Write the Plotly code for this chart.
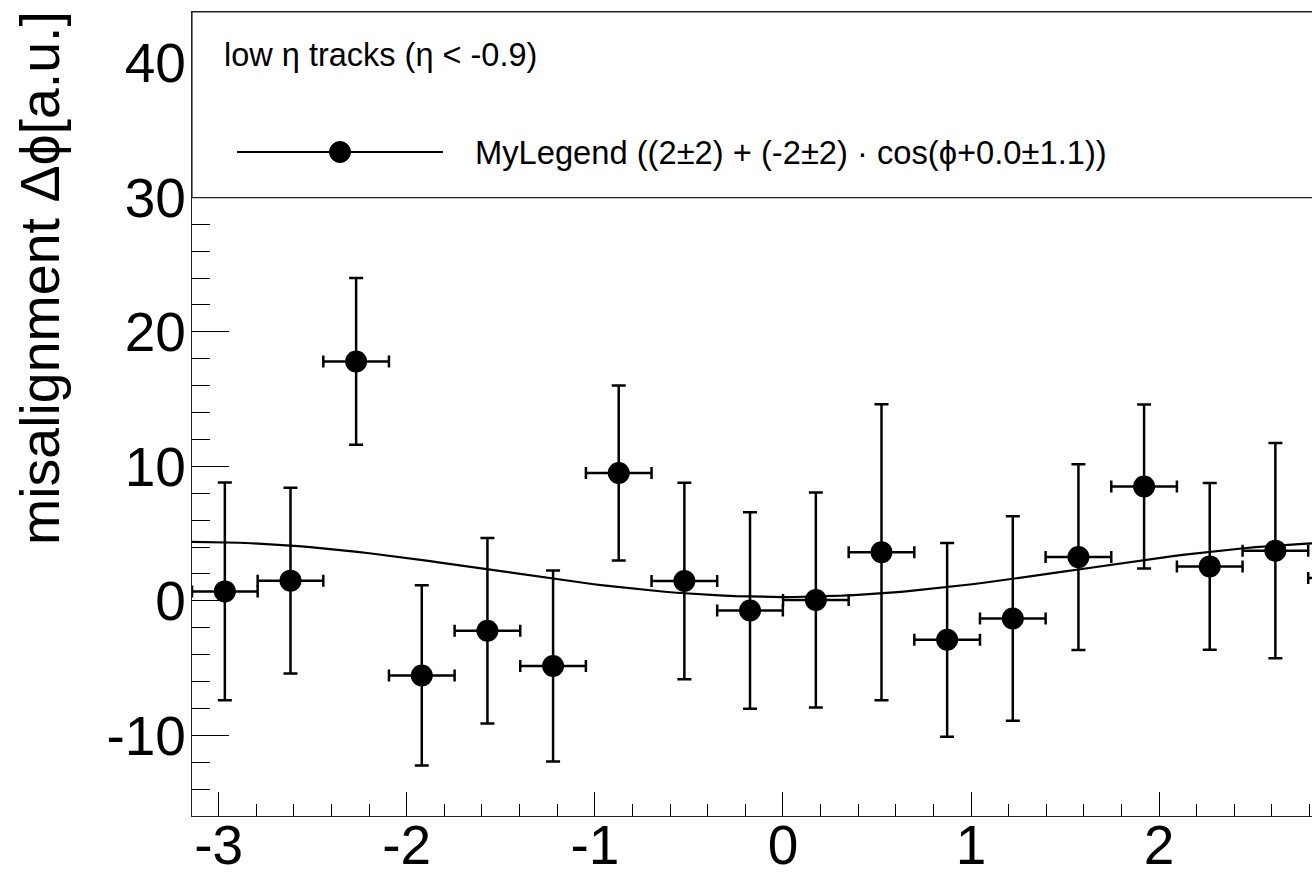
import numpy as np
import plotly.graph_objects as go

# Binned misalignment measurement (18 bins in phi over [-pi, pi])
phi_centers = [-2.967, -2.618, -2.269, -1.920, -1.571, -1.222, -0.873, -0.524, -0.175,
               0.175, 0.524, 0.873, 1.222, 1.571, 1.920, 2.269, 2.618, 2.967]
misalignment = [0.7, 1.5, 17.8, -5.55, -2.23, -4.85, 9.5, 1.47, -0.72,
                0.06, 3.61, -2.9, -1.31, 3.25, 8.5, 2.56, 3.73, 1.7]
misalignment_err = [8.1, 6.9, 6.2, 6.7, 6.9, 7.1, 6.5, 7.3, 7.3,
                    8.0, 11.0, 7.2, 7.6, 6.9, 6.1, 6.2, 8.0, 7.0]
phi_half_width = [0.1745] * 18

# Fit result: p0 + p1 * cos(phi + p2)
fit_par = [2.33, -2.05, 0.0]
fit_err = [2.0, 2.0, 1.1]

x_tick_vals = [-3, -2, -1, 0, 1, 2, 3]
y_tick_vals = [-10, 0, 10, 20, 30, 40]

FONT = "Liberation Sans, Arial, Helvetica, sans-serif"

# Frame geometry in pixels
W, H = 1312, 879
L, T, B = 192, 12, 63
plot_w = W - L
plot_h = H - T - B
px_per_unit_x = 188.1
x_range = [-np.pi, -np.pi + plot_w / px_per_unit_x]
y_range = [-16.0, 43.78]


def px_to_paper_x(px):
    return (px - L) / plot_w


def px_to_paper_y(py):
    return (H - B - py) / plot_h


phi_fine = np.linspace(-np.pi, np.pi, 101)
fit_curve = fit_par[0] + fit_par[1] * np.cos(phi_fine + fit_par[2])

fig = go.Figure()

fig.add_trace(go.Scatter(
    x=phi_fine, y=fit_curve, mode="lines",
    line=dict(color="black", width=2.2),
    hoverinfo="skip", showlegend=False,
))

fig.add_trace(go.Scatter(
    x=phi_centers, y=misalignment, mode="markers",
    marker=dict(color="black", size=22, symbol="circle"),
    error_y=dict(type="data", array=misalignment_err, visible=True,
                 color="black", thickness=2.5, width=7),
    error_x=dict(type="data", array=phi_half_width, visible=True,
                 color="black", thickness=2.5, width=6),
    showlegend=False,
))

legend_text = (
    f"MyLegend (({fit_par[0]:.0f}±{fit_err[0]:.0f}) + ({fit_par[1]:.0f}±{fit_err[1]:.0f})"
    f" · cos(ϕ+{fit_par[2]:.1f}±{fit_err[2]:.1f}))"
)

shapes = [
    # legend box
    dict(type="rect", xref="paper", yref="paper",
         x0=0, x1=1.2, y0=px_to_paper_y(197.7), y1=1.0,
         fillcolor="white", line=dict(color="#222", width=1.2), layer="above"),
    # legend sample line
    dict(type="line", xref="paper", yref="paper",
         x0=px_to_paper_x(237), x1=px_to_paper_x(443),
         y0=px_to_paper_y(152), y1=px_to_paper_y(152),
         line=dict(color="black", width=2), layer="above"),
    # legend sample marker
    dict(type="circle", xref="paper", yref="paper",
         x0=px_to_paper_x(329.5), x1=px_to_paper_x(350.5),
         y0=px_to_paper_y(162.5), y1=px_to_paper_y(141.5),
         fillcolor="black", line=dict(color="black", width=1), layer="above"),
]

annotations = [
    dict(text="low η tracks (η < -0.9)", xref="paper", yref="paper",
         x=px_to_paper_x(222), y=px_to_paper_y(55), xanchor="left", yanchor="middle",
         showarrow=False, font=dict(family=FONT, size=32.5, color="black")),
    dict(text=legend_text, xref="paper", yref="paper",
         x=px_to_paper_x(473), y=px_to_paper_y(152), xanchor="left", yanchor="middle",
         showarrow=False, font=dict(family=FONT, size=32.7, color="black")),
    dict(text="misalignment Δϕ[a.u.]", xref="paper", yref="paper",
         x=px_to_paper_x(40), y=px_to_paper_y(278), xanchor="center", yanchor="middle",
         textangle=-90, showarrow=False,
         font=dict(family=FONT, size=55.5, color="black")),
]

fig.update_layout(
    width=W, height=H,
    margin=dict(l=L, r=0, t=T, b=B, pad=0),
    paper_bgcolor="white", plot_bgcolor="white",
    showlegend=False,
    shapes=shapes, annotations=annotations,
    font=dict(family=FONT, color="black"),
)

fig.update_xaxes(
    range=x_range, tickvals=x_tick_vals, ticktext=[str(v) for v in x_tick_vals],
    ticks="inside", ticklen=24, tickwidth=1, tickcolor="black",
    minor=dict(ticks="inside", ticklen=12, dtick=0.2, tick0=0, tickcolor="black", tickwidth=1),
    showline=True, linecolor="#222", linewidth=1.2, mirror=True,
    showgrid=False, zeroline=False, automargin=False,
    ticklabelstandoff=-19,
    tickfont=dict(family=FONT, size=55, color="black"),
)

fig.update_yaxes(
    range=y_range, tickvals=y_tick_vals, ticktext=[str(v) for v in y_tick_vals],
    ticks="inside", ticklen=37, tickwidth=1, tickcolor="black",
    minor=dict(ticks="inside", ticklen=18, dtick=2, tick0=0, tickcolor="black", tickwidth=1),
    showline=True, linecolor="#222", linewidth=1.2, mirror=False,
    showgrid=False, zeroline=False, automargin=False,
    ticklabelstandoff=-6,
    tickfont=dict(family=FONT, size=55, color="black"),
)

fig.write_html("out.html")
